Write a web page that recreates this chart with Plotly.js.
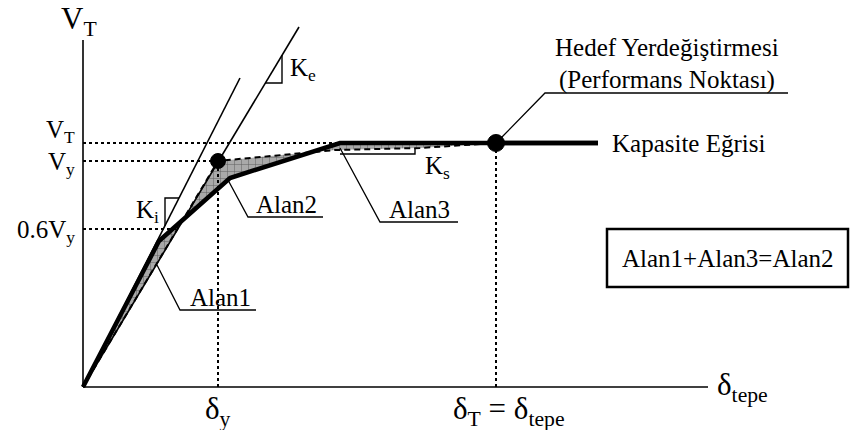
<!DOCTYPE html>
<html>
<head>
<meta charset="utf-8">
<script src="https://cdn.plot.ly/plotly-3.0.1.min.js"></script>
<style>
  html, body { margin: 0; padding: 0; background: #ffffff; }
  #chart { width: 853px; height: 430px; }
</style>
</head>
<body>
<div id="chart"></div>
<script>
// Pushover capacity curve and its bilinear idealisation (schematic units)
const capDisp  = [0, 76, 147, 257, 515];
const capShear = [0, 146, 209, 244, 244];

// Idealised bilinear curve: elastic branch Ke up to yield, then Ks up to target
const biDisp  = [0, 135, 252, 337, 413];
const biShear = [0, 226, 237, 239, 244];

// Initial stiffness (Ki) and effective stiffness (Ke) lines
const kiDisp  = [0, 157];
const kiShear = [0, 309];
const keDisp  = [0, 216];
const keShear = [0, 360];

// Characteristic levels
const shearLevels = { VT: 244, Vy: 226, V06: 158 };
const dispLevels  = { dy: 135, dT: 413 };
const yieldPoint  = [135, 226];
const targetPoint = [413, 244];

// Axis extents
const axisX = [0, 625];
const axisY = [0, 347];

// Slope triangles (stiffness symbols)
const kiTriX = [96, 82, 82];   const kiTriY = [189, 189, 161];
const keTriX = [182, 199, 199]; const keTriY = [304, 304, 332];
const ksTriX = [257, 332, 332]; const ksTriY = [233, 233, 239];

// Leader lines for the labels: point on curve -> elbow -> end of underline
const alan1Lead = { x: [74, 97, 173],  y: [122, 77, 77] };
const alan2Lead = { x: [145, 165, 240], y: [207, 170, 170] };
const alan3Lead = { x: [257, 297, 375], y: [239, 165, 165] };
const hedefLead = { x: [419, 462, 705], y: [250, 294, 294] };
const kapLine   = { x: [413, 515] };
const eqBox     = { x0: 524, x1: 765, y0: 100, y1: 158 };

// ---- helpers -------------------------------------------------------------
function interp(xs, ys, x) {
  for (let i = 1; i < xs.length; i++) {
    if (x <= xs[i]) {
      const t = (x - xs[i - 1]) / (xs[i] - xs[i - 1]);
      return ys[i - 1] + t * (ys[i] - ys[i - 1]);
    }
  }
  return ys[ys.length - 1];
}

// Areas enclosed between the capacity curve and the bilinear idealisation
function areasBetween() {
  const end = biDisp[biDisp.length - 1];
  const xsAll = Array.from(new Set(capDisp.concat(biDisp)))
    .filter(v => v <= end).sort((a, b) => a - b);
  const diff = x => interp(capDisp, capShear, x) - interp(biDisp, biShear, x);
  const cuts = [xsAll[0]];
  for (let i = 1; i < xsAll.length; i++) {
    const a = xsAll[i - 1], b = xsAll[i];
    const da = diff(a), db = diff(b);
    if (da * db < 0) cuts.push(a + (b - a) * da / (da - db));
  }
  cuts.push(end);
  const polys = [];
  for (let k = 1; k < cuts.length; k++) {
    const a = cuts[k - 1], b = cuts[k];
    const inner = xsAll.filter(v => v > a && v < b);
    const xs = [a].concat(inner, [b]);
    const px = [], py = [];
    xs.forEach(x => { px.push(x); py.push(interp(capDisp, capShear, x)); });
    xs.slice().reverse().forEach(x => { px.push(x); py.push(interp(biDisp, biShear, x)); });
    px.push(px[0]); py.push(py[0]);
    polys.push({ x: px, y: py });
  }
  return polys;
}

const FONT = 'Liberation Serif';
const traces = [];

// shaded areas Alan1, Alan2, Alan3
areasBetween().forEach(p => {
  traces.push({
    type: 'scatter', mode: 'lines', x: p.x, y: p.y,
    fill: 'toself', line: { width: 0, color: 'rgba(0,0,0,0)' },
    fillcolor: '#a9a9a9',
    fillpattern: { shape: '+', bgcolor: '#a9a9a9', fgcolor: '#5e5e5e', size: 7, solidity: 0.14, fillmode: 'replace' },
    hoverinfo: 'skip'
  });
});

function line(x, y, width, dash) {
  traces.push({
    type: 'scatter', mode: 'lines', x: x, y: y,
    line: { color: '#000000', width: width, dash: dash || 'solid' },
    hoverinfo: 'skip'
  });
}

// axes
line([0, 0], axisY, 1.6);
line(axisX, [0, 0], 1.6);

// dotted reference lines
line([0, capDisp[3]], [shearLevels.VT, shearLevels.VT], 2, 'dot');
line([0, yieldPoint[0]], [shearLevels.Vy, shearLevels.Vy], 2, 'dot');
line([0, 94], [shearLevels.V06, shearLevels.V06], 2, 'dot');
line([dispLevels.dy, dispLevels.dy], [0, shearLevels.Vy], 2, 'dot');
line([dispLevels.dT, dispLevels.dT], [0, shearLevels.VT], 2, 'dot');

// stiffness lines
line(kiDisp, kiShear, 1.6);
line(keDisp, keShear, 1.6);

// idealised bilinear curve
line(biDisp, biShear, 2, '6px,4px');

// capacity curve, continuing past the target point up to its label
line(capDisp, capShear, 4.5);
line(kapLine.x, [shearLevels.VT, shearLevels.VT], 4.5);

// slope triangles
line(kiTriX, kiTriY, 1.4);
line(keTriX, keTriY, 1.4);
line(ksTriX, ksTriY, 1.4);

// leader lines
[alan1Lead, alan2Lead, alan3Lead, hedefLead].forEach(l => line(l.x, l.y, 1.3));

// yield and target points
traces.push({
  type: 'scatter', mode: 'markers',
  x: [yieldPoint[0], targetPoint[0]], y: [yieldPoint[1], targetPoint[1]],
  opacity: 1,
  marker: { color: '#000000', opacity: 1, size: [15, 17], line: { width: 1, color: '#000000' } },
  hoverinfo: 'skip'
});

function txt(x, y, text, opts) {
  return Object.assign({
    x: x, y: y, xref: 'x', yref: 'y', text: text, showarrow: false,
    font: { family: FONT, size: 25, color: '#000000' },
    xanchor: 'center', yanchor: 'middle'
  }, opts || {});
}
const big = { family: FONT, size: 31, color: '#000000' };

const annotations = [
  txt(-24, 366, 'V<sub>T</sub>', { xanchor: 'left', font: big }),
  txt(632, 0, 'δ<sub>tepe</sub>', { xanchor: 'left', font: big }),
  txt(-6, shearLevels.VT + 12, 'V<sub>T</sub>', { xanchor: 'right' }),
  txt(-6, shearLevels.Vy - 2, 'V<sub>y</sub>', { xanchor: 'right' }),
  txt(-6, shearLevels.V06 - 2, '0.6V<sub>y</sub>', { xanchor: 'right' }),
  txt(dispLevels.dy, -24, 'δ<sub>y</sub>', { font: big }),
  txt(426, -24, 'δ<sub>T</sub> = δ<sub>tepe</sub>', { font: big }),
  txt(78, 176, 'K<sub>i</sub>', { xanchor: 'right' }),
  txt(205, 318, 'K<sub>e</sub>', { xanchor: 'left' }),
  txt(340, 220, 'K<sub>s</sub>', { xanchor: 'left' }),
  txt(137, 90, 'Alan1'),
  txt(203, 183, 'Alan2'),
  txt(336, 178, 'Alan3'),
  txt(584, 340, 'Hedef Yerdeğiştirmesi'),
  txt(584, 307, '(Performans Noktası)'),
  txt(527, shearLevels.VT, 'Kapasite Eğrisi', { xanchor: 'left' }),
  txt((eqBox.x0 + eqBox.x1) / 2, (eqBox.y0 + eqBox.y1) / 2, 'Alan1+Alan3=Alan2')
];

const layout = {
  width: 853, height: 430,
  margin: { l: 0, r: 0, t: 0, b: 0 },
  paper_bgcolor: '#ffffff', plot_bgcolor: '#ffffff',
  showlegend: false,
  font: { family: FONT },
  xaxis: { range: [-83, 770], visible: false, fixedrange: true },
  yaxis: { range: [-43, 387], visible: false, fixedrange: true },
  shapes: [{
    type: 'rect', xref: 'x', yref: 'y',
    x0: eqBox.x0, x1: eqBox.x1, y0: eqBox.y0, y1: eqBox.y1,
    line: { color: '#000000', width: 2.5 }
  }],
  annotations: annotations
};

Plotly.newPlot('chart', traces, layout, { staticPlot: true, displayModeBar: false });
</script>
</body>
</html>
